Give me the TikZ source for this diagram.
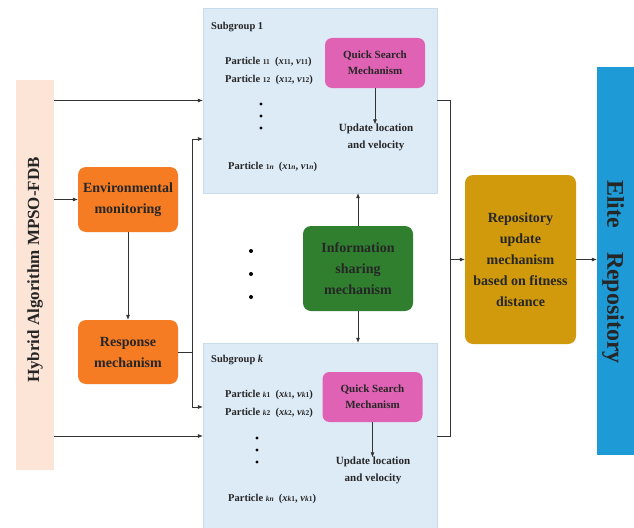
\documentclass[tikz,border=0pt]{standalone}
\usepackage{fontspec}
\setmainfont{Liberation Serif}
\usetikzlibrary{arrows.meta}
\definecolor{barpeach}{HTML}{FCE4D6}
\definecolor{subblue}{HTML}{DDEBF7}
\definecolor{subedge}{HTML}{C9DCEB}
\definecolor{orangebox}{HTML}{F57C22}
\definecolor{pinkbox}{HTML}{E062B5}
\definecolor{greenbox}{HTML}{2F7F2F}
\definecolor{goldbox}{HTML}{D09A0C}
\definecolor{eliteblue}{HTML}{1E9BD7}
\definecolor{linegray}{HTML}{333333}
\newcommand{\psub}[1]{{\fontsize{7.5}{8}\selectfont #1}}
\begin{document}
\begin{tikzpicture}[x=1pt,y=-1pt,
  box/.style={rounded corners=8pt, align=center, inner sep=2pt,
    font=\bfseries\fontsize{14}{21}\selectfont, text=black!85},
  subgrp/.style={fill=subblue, draw=subedge, line width=0.4pt,
    minimum width=234pt, inner sep=0pt},
  qsbox/.style={box, fill=pinkbox, minimum width=100pt, minimum height=50pt,
    font=\bfseries\fontsize{11}{16}\selectfont, text=black!85, rounded corners=7pt},
  upd/.style={align=center, inner sep=1pt, font=\bfseries\fontsize{11}{17}\selectfont, text=black!85},
  part/.style={anchor=base west, inner sep=0pt, font=\bfseries\fontsize{10.5}{12}\selectfont, text=black!85},
  sglabel/.style={anchor=base west, inner sep=0pt, font=\bfseries\fontsize{10.5}{12}\selectfont, text=black!85},
  arr/.style={draw=linegray, line width=0.6pt, -{Latex[length=5pt,width=4pt]}},
  ln/.style={draw=linegray, line width=0.6pt},
  dotmark/.style={circle, fill=black, inner sep=0pt, minimum size=3.2pt}]
\useasboundingbox (0,0) rectangle (634,527);
\fill[white] (0,0) rectangle (634,527);

% side bars
\node[fill=barpeach, minimum width=38pt, minimum height=390pt, inner sep=0pt] (bar) at (35,275) {};
\node[rotate=90, font=\bfseries\fontsize{17}{20}\selectfont, text=black!85] (bartext) at (35,270) {Hybrid Algorithm MPSO-FDB};
\node[fill=eliteblue, minimum width=37pt, minimum height=388pt, inner sep=0pt] (elite) at (615.5,261) {};
\node[rotate=-90, font=\bfseries\fontsize{24}{26}\selectfont, text=black!85] (elitetext) at (613,272) {Elite\quad Repository};

% subgroups
\node[subgrp, minimum height=185pt] (sub1) at (320,100.5) {};
\node[subgrp, minimum height=186pt] (subk) at (320,436) {};

% left boxes
\node[box, fill=orangebox, minimum width=100pt, minimum height=65pt] (env) at (128,199.5) {Environmental\\monitoring};
\node[box, fill=orangebox, minimum width=100pt, minimum height=64pt] (resp) at (128,352) {Response\\mechanism};

% center boxes
\node[box, fill=greenbox, minimum width=110pt, minimum height=85pt] (info) at (358,268.5) {Information\\sharing\\mechanism};
\node[box, fill=goldbox, minimum width=111pt, minimum height=169pt] (repo) at (520.5,259.5) {Repository\\update\\mechanism\\based on fitness\\distance};

% subgroup 1 contents
\node[sglabel] (sg1lab) at (211,30) {Subgroup 1};
\node[part] (p11) at (225,64) {Particle \psub{11}\ \ (\textit{x}\psub{11}, \textit{v}\psub{11})};
\node[part] (p12) at (225,82) {Particle \psub{12}\ \ (\textit{x}\psub{12}, \textit{v}\psub{12})};
\node[part] (p1n) at (228,169) {Particle \psub{1\textit{n}}\ \ (\textit{x}\psub{1\textit{n}}, \textit{v}\psub{1\textit{n}})};
\node[dotmark] (d11) at (261,104) {};
\node[dotmark] (d12) at (261,116) {};
\node[dotmark] (d13) at (261,128) {};
\node[qsbox] (qs1) at (375,63) {Quick Search\\Mechanism};
\node[upd] (up1) at (376,137) {Update location\\and velocity};

% subgroup k contents
\node[sglabel] (sgklab) at (211,362) {Subgroup \textit{k}};
\node[part] (pk1) at (225,397) {Particle \psub{\textit{k}1}\ \ (\textit{x}\psub{\textit{k}1}, \textit{v}\psub{\textit{k}1})};
\node[part] (pk2) at (225,415) {Particle \psub{\textit{k}2}\ \ (\textit{x}\psub{\textit{k}2}, \textit{v}\psub{\textit{k}2})};
\node[part] (pkn) at (228,501) {Particle \psub{\textit{kn}}\ \ (\textit{x}\psub{\textit{k}1}, \textit{v}\psub{\textit{k}1})};
\node[dotmark] (dk1) at (257,438) {};
\node[dotmark] (dk2) at (257,450) {};
\node[dotmark] (dk3) at (257,462) {};
\node[qsbox] (qsk) at (372.5,397) {Quick Search\\Mechanism};
\node[upd] (upk) at (373,470) {Update location\\and velocity};

% dots between subgroups
\node[dotmark, minimum size=4pt] (dm1) at (251,251) {};
\node[dotmark, minimum size=4pt] (dm2) at (251,274) {};
\node[dotmark, minimum size=4pt] (dm3) at (251,297) {};

% connectors
\draw[arr] (bar.east |- sub1.west) -- (sub1.west);
\draw[arr] (bar.east |- env.west) -- (env.west);
\draw[arr] (bar.east |- subk.west) -- (subk.west);
\draw[arr] (env.south) -- (resp.north);
\coordinate (rj) at (192,352);
\draw[ln] (resp.east) -- (rj);
\draw[arr] (rj) |- (sub1.west |- 0,139);
\draw[arr] (rj) |- (subk.west |- 0,407);
\draw[arr] (qs1.south) -- ([yshift=-2pt]qs1.south |- up1.north);
\draw[arr] (qsk.south) -- ([yshift=-2pt]qsk.south |- upk.north);
\draw[arr] (info.north) -- (sub1.south -| info.north);
\draw[arr] (info.south) -- (subk.north -| info.south);
\coordinate (mj) at (450,259.5);
\draw[ln] (sub1.east) -| (mj);
\draw[ln] (subk.east) -| (mj);
\draw[arr] (mj) -- (repo.west);
\draw[arr] (repo.east) -- (repo.east -| elite.west);
\end{tikzpicture}
\end{document}
